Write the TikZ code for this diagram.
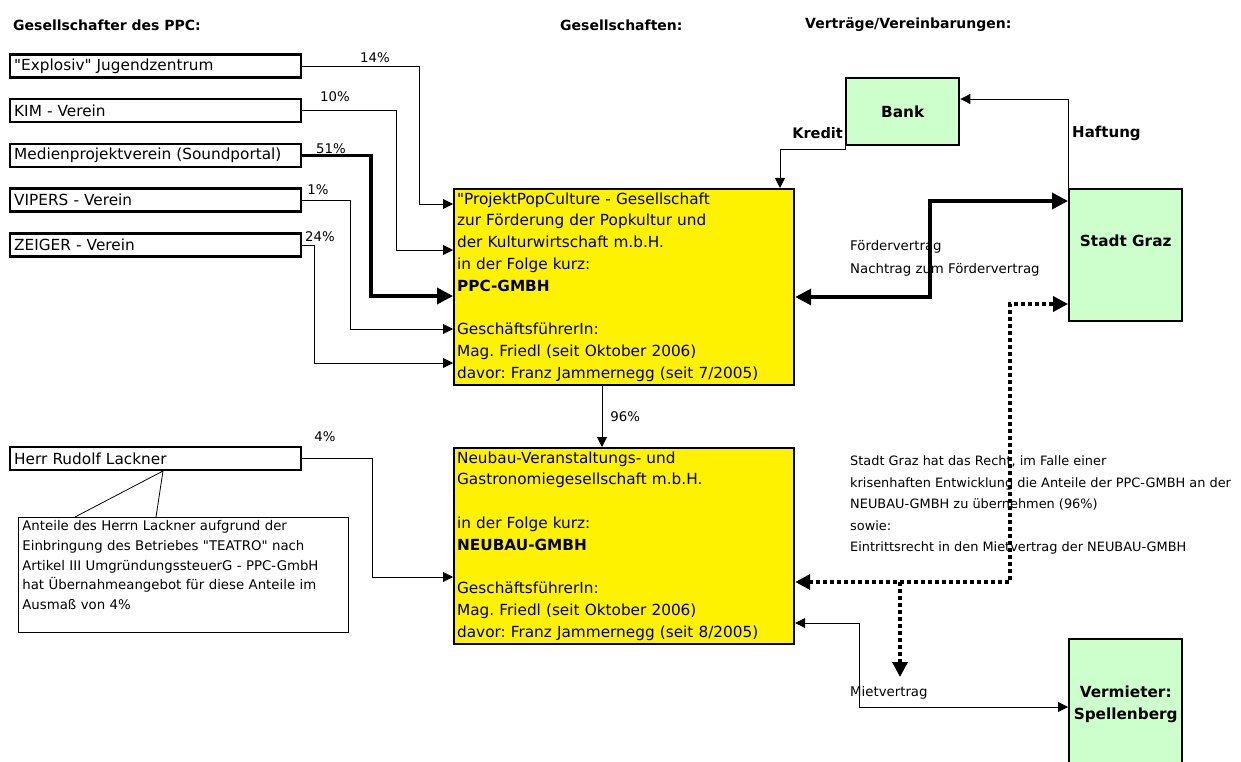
\documentclass[tikz,border=0pt]{standalone}
\usepackage{fontspec}
\setmainfont{DejaVu Sans}
\usetikzlibrary{arrows.meta,calc}

\definecolor{hellgruen}{RGB}{204,255,204}
\newcommand{\normalschrift}{\fontsize{15.3}{21.8}\selectfont}
\newcommand{\kleinschrift}{\fontsize{13.3}{22}\selectfont}
\newcommand{\gz}{\textquotedbl}
\frenchspacing

\begin{document}
\begin{tikzpicture}[
    x=1pt, y=-1pt,
    kopf/.style={anchor=west, inner sep=0pt, font=\fontsize{14}{17}\selectfont\bfseries},
    gesellschafter/.style={draw, line width=2.4pt, anchor=west, minimum height=23pt,
        text width=283pt, inner xsep=4pt, inner ysep=0pt, align=left, font=\normalschrift},
    firma/.style={draw, line width=2.2pt, fill=yellow, anchor=north west,
        text width=334pt, inner xsep=3pt, align=left, font=\normalschrift},
    partner/.style={draw, line width=2.4pt, fill=hellgruen, anchor=north west,
        minimum width=113pt, align=center, font=\normalschrift\bfseries},
    notiz/.style={draw, line width=0.8pt, anchor=north west, text width=322pt,
        inner xsep=4pt, inner ysep=3pt, align=left, font=\fontsize{13.3}{19.8}\selectfont},
    beschriftung/.style={anchor=west, align=left, inner sep=0pt, font=\kleinschrift},
    anteil/.style={inner sep=0pt, font=\kleinschrift},
    pfeil/.style={line width=0.9pt, -{Triangle[length=10pt,width=10pt]}},
    doppelpfeil/.style={line width=0.9pt, {Triangle[length=10pt,width=10pt]}-{Triangle[length=10pt,width=10pt]}},
    dickpfeil/.style={line width=3.5pt, -{Triangle[length=16pt,width=16pt]}},
    dickdoppel/.style={line width=3.5pt, {Triangle[length=16pt,width=16pt]}-{Triangle[length=16pt,width=16pt]}},
    punktpfeil/.style={line width=3.5pt, dash pattern=on 3.5pt off 3.5pt, -{Triangle[length=15pt,width=15pt]}},
    punktdoppel/.style={line width=3.5pt, dash pattern=on 3.5pt off 3.5pt, {Triangle[length=15pt,width=15pt]}-{Triangle[length=15pt,width=15pt]}}
]

\fill[white] (0,0) rectangle (1241,762);
\useasboundingbox (0,0) rectangle (1241,762);

% Spaltenkoepfe
\node[kopf] (kopfa) at (13,25) {Gesellschafter des PPC:};
\node[kopf] (kopfb) at (560,25) {Gesellschaften:};
\node[kopf] (kopfc) at (805,25) {Verträge/Vereinbarungen:};

% Gesellschafter
\node[gesellschafter] (explosiv) at (9,66) {\gz Explosiv\gz{} Jugendzentrum};
\node[gesellschafter] (kim) at (9,110.5) {KIM - Verein};
\node[gesellschafter] (medien) at (9,155.5) {Medienprojektverein (Soundportal)};
\node[gesellschafter] (vipers) at (9,200) {VIPERS - Verein};
\node[gesellschafter] (zeiger) at (9,245) {ZEIGER - Verein};
\node[gesellschafter] (lackner) at (9,458.5) {Herr Rudolf Lackner};

\node[notiz] (notiz) at (18,517) {Anteile des Herrn Lackner aufgrund der\\
    Einbringung des Betriebes \gz TEATRO\gz{} nach\\
    Artikel III UmgründungssteuerG - PPC-GmbH\\
    hat Übernahmeangebot für diese Anteile im\\
    Ausmaß von 4\%\\ ~};
\coordinate (spitze) at (163,471);
\draw[line width=0.8pt] ($(notiz.north west)+(57,0)$) -- (spitze) -- ($(notiz.north west)+(138,0)$);

% Gesellschaften
\node[firma, minimum width=340pt, minimum height=195pt] (ppc) at (453,188) {\gz ProjektPopCulture - Gesellschaft\\
    zur Förderung der Popkultur und\\
    der Kulturwirtschaft m.b.H.\\
    in der Folge kurz:\\
    \textbf{PPC-GMBH}\\ ~\\
    GeschäftsführerIn:\\
    Mag. Friedl (seit Oktober 2006)\\
    davor: Franz Jammernegg (seit 7/2005)};
\node[firma, minimum width=340pt, minimum height=192pt] (neubau) at (453,447) {Neubau-Veranstaltungs- und\\
    Gastronomiegesellschaft m.b.H.\\ ~\\
    in der Folge kurz:\\
    \textbf{NEUBAU-GMBH}\\ ~\\
    GeschäftsführerIn:\\
    Mag. Friedl (seit Oktober 2006)\\
    davor: Franz Jammernegg (seit 8/2005)};

% Vertragspartner
\node[partner, minimum height=67pt] (bank) at (845,77) {Bank};
\node[partner, minimum height=132pt] (graz) at (1068,188) {Stadt Graz\\[8pt]};
\node[partner, minimum height=130pt] (vermieter) at (1068,638) {Vermieter:\\Spellenberg};

% Beschriftungen
\node[anteil] (p14) at (375,58) {14\%};
\node[anteil] (p10) at (335,97) {10\%};
\node[anteil] (p51) at (331,149) {51\%};
\node[anteil] (p1) at (318,190) {1\%};
\node[anteil] (p24) at (320,237) {24\%};
\node[anteil] (p4) at (325,437) {4\%};
\node[kopf, anchor=east, font=\fontsize{14.5}{17}\selectfont\bfseries] (kredit) at (843,133) {Kredit};
\node[kopf, font=\fontsize{15}{17}\selectfont\bfseries] (haftung) at (1072,133) {Haftung};
\node[beschriftung, font=\fontsize{13.3}{23}\selectfont] (foerder) at (850,258) {Fördervertrag\\Nachtrag zum Fördervertrag};
\node[beschriftung, font=\fontsize{12.9}{21.5}\selectfont] (recht) at (850,505) {Stadt Graz hat das Recht, im Falle einer\\
    krisenhaften Entwicklung die Anteile der PPC-GMBH an der\\
    NEUBAU-GMBH zu übernehmen (96\%)\\
    sowie:\\
    Eintrittsrecht in den Mietvertrag der NEUBAU-GMBH};
\node[beschriftung] (miete) at (850,693) {Mietvertrag};

% Beteiligungen
\draw[pfeil] (explosiv.east) -| (419,204) -- (ppc.west |- 0,204);
\draw[pfeil] (kim.east) -| (396,250) -- (ppc.west |- 0,250);
\draw[dickpfeil] (medien.east) -| (371,296) -- (ppc.west |- 0,296);
\draw[pfeil] (vipers.east) -| (350,329) -- (ppc.west |- 0,329);
\draw[pfeil] (zeiger.east) -| (314,363) -- (ppc.west |- 0,363);
\draw[pfeil] (lackner.east) -| (372,577) -- (neubau.west |- 0,577);
\draw[pfeil] (ppc.south -| 602,0) -- node[anteil, right=8pt] (p96) {96\%} (neubau.north -| 602,0);

% Vertraege
\draw[pfeil] (bank.west) |- (780,149) -- (ppc.north -| 780,0);
\draw[pfeil] (graz.north west) |- (bank.east |- 0,99);
\draw[dickdoppel] (ppc.east |- 0,297) -| (930,201) -- (graz.west |- 0,201);
\draw[punktdoppel] (neubau.east |- 0,582) -| (1010,304) -- (graz.west |- 0,304);
\coordinate (abzweig) at (900,582);
\coordinate (eintritt) at (900,677);
\draw[punktpfeil] (abzweig) -- (eintritt);
\draw[doppelpfeil] (neubau.east |- 0,623) -| (859,707) -- (vermieter.west |- 0,707);

\end{tikzpicture}
\end{document}
